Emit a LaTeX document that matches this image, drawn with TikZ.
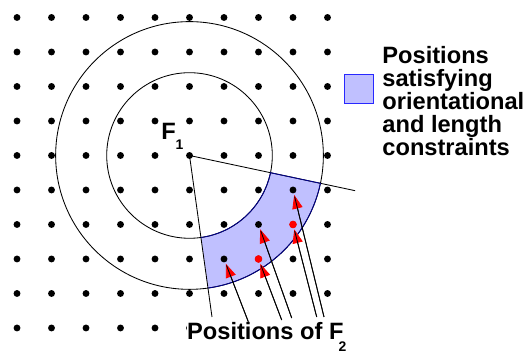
\documentclass[tikz,border=0pt]{standalone}
\usepackage{fontspec}
\setmainfont{Liberation Sans}
\usetikzlibrary{arrows.meta,positioning,calc}
\definecolor{regionfill}{RGB}{192,192,255}
\definecolor{regionedge}{RGB}{0,0,140}
\definecolor{keyedge}{RGB}{40,40,255}

\begin{document}
\begin{tikzpicture}[line width=.7pt,
  gridpt/.style={circle,fill=black,inner sep=0pt,minimum size=2mm},
  hitpt/.style={circle,fill=red,inner sep=0pt,minimum size=2.2mm},
  f2arrow/.style={-{Triangle[red,length=4mm,width=3mm]},shorten >=1pt},
  lbl/.style={font=\fontsize{19.5}{19}\selectfont\bfseries,inner sep=0pt}]
\useasboundingbox (-.493,-.696) rectangle (14.783,9.507);
% region between the two radii and the two directions
\fill[regionfill] ($(5,5)+(-82:2.4)$) arc[start angle=-82,end angle=-12,radius=2.4]
  -- ($(5,5)+(-12:3.88)$) arc[start angle=-12,end angle=-82,radius=3.88] -- cycle;
\draw (5,5) circle(2.4) (5,5) circle(3.88);
\coordinate (wedgeend) at (9.80,3.98);
\coordinate (lblend) at (5.652,.319);
\draw (5,5) -- (wedgeend) (5,5) -- (lblend);
\draw[regionedge] ($(5,5)+(-82:2.4)$) arc[start angle=-82,end angle=-12,radius=2.4]
  -- ($(5,5)+(-12:3.88)$) arc[start angle=-12,end angle=-82,radius=3.88];
% lattice
\foreach \i in {0,...,9}
  \foreach \j in {0,...,9}
    \node[gridpt] (d\i\j) at (\i,\j) {};
\node[hitpt] at (d72) {};
\node[hitpt] at (d83) {};
% labels
\node[lbl,anchor=base west] (f1) at (4.17,5.47) {F\raisebox{-8.8pt}{\fontsize{11.5}{11.5}\selectfont 1}};
\node[lbl,anchor=base west,fill=white] (f2) at (4.92,-.327) {Positions of F\hspace{-4pt}\raisebox{-10pt}{\fontsize{11.5}{11.5}\selectfont 2}};
\node[minimum size=8.4mm,inner sep=0pt,fill=regionfill,draw=keyedge] (key) at (9.91,6.93) {};
\node[lbl,anchor=north west,align=left] (keytext) at (10.58,8.17) {Positions\\satisfying\\orientational\\and length\\constraints};
% candidate positions of F2
\coordinate (a1) at (6.704,.183);
\coordinate (a2) at (7.672,.232);
\coordinate (a3) at (7.962,.290);
\coordinate (a4) at (8.687,.319);
\coordinate (a5) at (8.899,.319);
\foreach \a/\d in {a1/d62,a2/d72,a3/d73,a4/d83,a5/d84}{
  \draw[f2arrow] (\a) -- (\d);
  \draw[shorten >=2.5pt] (\a) -- (\d);
}
\end{tikzpicture}
\end{document}
